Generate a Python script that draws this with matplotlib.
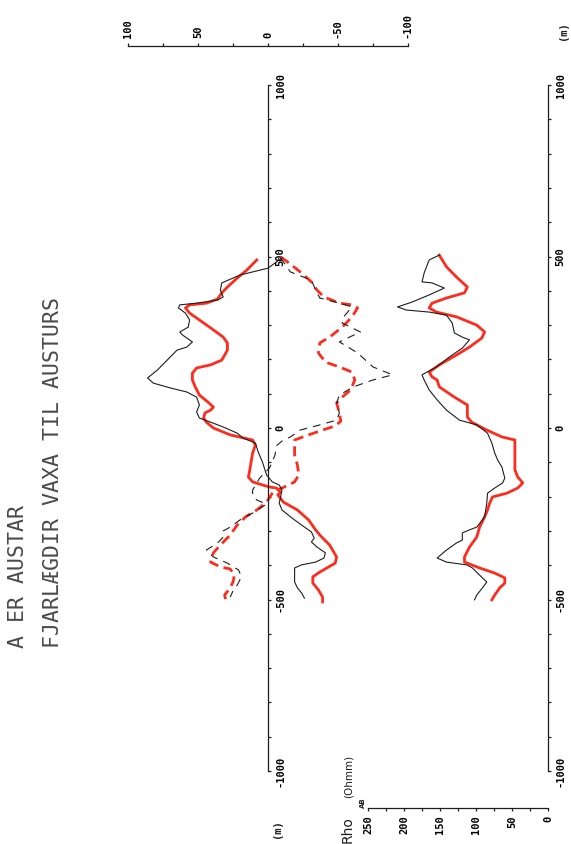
import matplotlib
matplotlib.use('Agg')
import matplotlib.pyplot as plt
import numpy as np

W, H = 571, 844  # figure size in pixels

# ---- top panel: Rho_BC-AB (solid) and Rho_AC-AB (dashed), Ohmm vs position (m)
meas_bc_pos = [496, 466, 446, 423, 402, 382, 373, 364, 359, 350, 335, 315, 294, 280, 271,
               251, 236, 227, 198, 169, 146, 131, 117, 105, 90, 67, 47, 29, 17, 3, -15,
               -29, -44, -70, -99, -137, -157, -166, -181, -201, -219, -239, -262, -283,
               -303, -321, -332, -347, -364, -379, -391, -399, -408, -429, -449, -466,
               -481, -496]
meas_bc = [-10, 0, 20, 33, 34, 32, 36, 51, 63, 64, 59, 56, 57, 63, 61,
           54, 58, 65, 72, 79, 86, 82, 70, 58, 51, 49, 51, 49, 41, 32, 22,
           18, 9, 7, 4, 1, -3, -8, -10, -9, -8, -10, -17, -24,
           -31, -33, -31, -35, -41, -40, -34, -24, -19, -19, -19, -21,
           -24, -26]

calc_bc_pos = [490, 461, 437, 411, 394, 376, 364, 359, 350, 335, 315, 286, 265, 248, 227,
               198, 184, 175, 160, 140, 120, 96, 76, 61, 52, 44, 29, 17, 0, -20, -35,
               -50, -73, -122, -143, -157, -166, -172, -175, -187, -195, -216, -239,
               -268, -297, -312, -341, -376, -394, -420, -434, -452, -472, -493, -507]
calc_bc = [8, 15, 22, 29, 33, 36, 44, 56, 59, 56, 49, 39, 32, 29, 29,
           33, 41, 51, 54, 54, 52, 49, 43, 39, 41, 45, 46, 44, 39, 27, 11,
           9, 11, 13, 14, 11, 4, -1, -6, -9, -7, -11, -21,
           -29, -34, -37, -44, -49, -48, -37, -32, -32, -36, -39, -39]

meas_ac_pos = [496, 455, 431, 402, 379, 364, 353, 324, 306, 280, 251, 219, 178, 155, 140,
               120, 96, 73, 44, 23, 9, -6, -26, -38, -52, -79, -99, -117, -146, -181,
               -195, -210, -222, -248, -268, -289, -300, -318, -335, -356, -376, -394,
               -414, -434, -458, -475, -493]
meas_ac = [-9, -16, -31, -34, -37, -51, -60, -54, -53, -66, -51, -64, -75, -89, -75,
           -61, -51, -49, -51, -49, -37, -23, -16, -10, -6, -5, -3, -1, 6, 11,
           11, 8, 1, 11, 20, 27, 32, 32, 36, 44, 39, 29,
           21, 19, 22, 25, 27]

calc_ac_pos = [499, 481, 455, 426, 402, 382, 364, 359, 350, 324, 294, 265, 248, 219, 192,
               178, 163, 140, 111, 90, 73, 44, 20, 6, -6, -20, -35, -50, -79, -108,
               -137, -157, -166, -175, -184, -216, -239, -259, -283, -312, -341, -364,
               -391, -405, -411, -429, -449, -466, -487, -504]
calc_ac = [-9, -15, -23, -31, -35, -40, -51, -60, -64, -60, -53, -44, -37, -36, -41,
           -51, -60, -62, -59, -53, -49, -51, -52, -48, -39, -29, -19, -19, -19, -21,
           -22, -19, -15, -10, -4, 1, 8, 16, 22, 27, 34, 39,
           41, 34, 27, 24, 25, 27, 31, 30]

# ---- bottom panel: Rho_AB (Ohmm) vs position (m)
meas_ab_pos = [504, 490, 452, 426, 423, 408, 388, 367, 353, 344, 338, 329, 306, 277, 265,
               257, 233, 207, 178, 163, 155, 140, 111, 82, 52, 23, 9, -15, -44, -73,
               -93, -114, -146, -160, -175, -190, -219, -259, -289, -297, -306, -327,
               -335, -356, -379, -391, -399, -408, -429, -449, -466, -487, -501]
meas_ab = [151, 165, 172, 175, 161, 144, 165, 189, 209, 197, 165, 141, 133, 130, 119,
           109, 119, 137, 155, 168, 175, 172, 165, 154, 141, 123, 99, 84, 78, 74,
           70, 64, 60, 63, 74, 84, 85, 88, 99, 109, 119, 119,
           127, 141, 154, 141, 113, 105, 95, 85, 91, 99, 102]

calc_ab_pos = [504, 470, 440, 411, 394, 379, 364, 350, 338, 324, 300, 280, 262, 236, 213,
               184, 163, 149, 140, 120, 90, 67, 32, 17, -6, -26, -35, -64, -93, -122,
               -143, -160, -175, -190, -201, -219, -239, -259, -289, -318, -347, -376,
               -391, -408, -423, -437, -452, -466, -487, -501]
calc_ab = [151, 141, 127, 112, 116, 141, 161, 165, 155, 127, 99, 88, 92, 109, 127,
           151, 165, 161, 154, 151, 130, 112, 112, 106, 85, 64, 46, 46, 46, 46,
           42, 35, 42, 57, 77, 81, 84, 88, 95, 99, 109, 116,
           116, 95, 74, 60, 60, 67, 74, 78]

pos_ticks = np.arange(-1000, 1001, 100)
pos_labels = [str(t) if t % 500 == 0 else '' for t in pos_ticks]
diff_ticks = np.arange(-100, 101, 25)
diff_labels = [str(t) if t % 50 == 0 else '' for t in diff_ticks]
ab_ticks = np.arange(0, 251, 25)
ab_labels = [str(t) if t % 50 == 0 else '' for t in ab_ticks]

RED = '#ff2b1c'
INK = '#1e1e1e'
MONO = 'DejaVu Sans Mono'


def rect(x0, y0, x1, y1):
    return [x0 / W, 1 - y1 / H, (x1 - x0) / W, (y1 - y0) / H]


def fx(x):
    return x / W


def fy(y):
    return 1 - y / H


fig = plt.figure(figsize=(W / 100, H / 100), dpi=100)
fig.patch.set_facecolor('white')

# top panel
ax1 = fig.add_axes(rect(128, 85, 408, 771))
ax1.set_xlim(100, -100)
ax1.set_ylim(-1000, 1000)
ax1.patch.set_alpha(0)
ax1.spines['left'].set_visible(False)
ax1.spines['bottom'].set_visible(False)
ax1.spines['right'].set_position(('data', 0))
ax1.spines['top'].set_position(('outward', 28))
for s in ('right', 'top'):
    ax1.spines[s].set_linewidth(0.9)
    ax1.spines[s].set_color(INK)
ax1.yaxis.set_ticks_position('right')
ax1.xaxis.set_ticks_position('top')
ax1.set_yticks(pos_ticks)
ax1.set_yticklabels(pos_labels, rotation=90, va='center', ha='left',
                    family=MONO, fontweight='bold', fontsize=7.5)
ax1.set_xticks(diff_ticks)
ax1.set_xticklabels(diff_labels, rotation=90, va='bottom', ha='center',
                    family=MONO, fontweight='bold', fontsize=7.5)
ax1.tick_params(axis='both', direction='out', length=2.5, width=0.9, color=INK, pad=3)

ax1.plot(calc_bc, calc_bc_pos, color=RED, lw=2.0)
ax1.plot(calc_ac, calc_ac_pos, color=RED, lw=2.0, dashes=(3.6, 2.0))
ax1.plot(meas_bc, meas_bc_pos, color=INK, lw=0.8)
ax1.plot(meas_ac, meas_ac_pos, color=INK, lw=0.8, dashes=(7, 5.5))

# bottom panel (Rho_AB)
ax2 = fig.add_axes(rect(368, 85, 548, 771))
ax2.set_xlim(250, 0)
ax2.set_ylim(-1000, 1000)
ax2.patch.set_alpha(0)
ax2.spines['left'].set_visible(False)
ax2.spines['top'].set_visible(False)
ax2.spines['bottom'].set_position(('outward', 26.5))
for s in ('right', 'bottom'):
    ax2.spines[s].set_linewidth(0.9)
    ax2.spines[s].set_color(INK)
ax2.yaxis.set_ticks_position('right')
ax2.xaxis.set_ticks_position('bottom')
ax2.set_yticks(pos_ticks)
ax2.set_yticklabels(pos_labels, rotation=90, va='center', ha='left',
                    family=MONO, fontweight='bold', fontsize=7.5)
ax2.set_xticks(ab_ticks)
ax2.set_xticklabels(ab_labels, rotation=90, va='top', ha='center',
                    family=MONO, fontweight='bold', fontsize=7.5)
ax2.tick_params(axis='both', direction='out', length=2.5, width=0.9, color=INK, pad=3)

ax2.plot(calc_ab, calc_ab_pos, color=RED, lw=2.0)
ax2.plot(meas_ab, meas_ab_pos, color=INK, lw=0.8)

# titles
fig.text(fx(18), fy(648), 'A ER AUSTAR', rotation=90, ha='center', va='bottom',
         family=MONO, fontsize=15.5, color='#4a4a4a')
fig.text(fx(53), fy(648), 'FJARLÆGDIR VAXA TIL AUSTURS', rotation=90, ha='center',
         va='bottom', family=MONO, fontsize=15.5, color='#4a4a4a')

# units
fig.text(fx(277), fy(838), '(m)', rotation=90, ha='center', va='bottom',
         family=MONO, fontweight='bold', fontsize=7.5, color=INK)
fig.text(fx(563), fy(40), '(m)', rotation=90, ha='center', va='bottom',
         family=MONO, fontweight='bold', fontsize=7.5, color=INK)
fig.text(fx(348), fy(843), 'Rho', rotation=90, ha='center', va='bottom',
         family='DejaVu Sans', fontsize=10, color=INK)
fig.text(fx(363), fy(808), 'AB', rotation=90, ha='center', va='bottom',
         family='DejaVu Sans', fontweight='bold', fontsize=5, color=INK)
fig.text(fx(349), fy(798), '(Ohmm)', rotation=90, ha='center', va='bottom',
         family='DejaVu Sans', fontsize=7.5, color=INK)

fig.savefig('out.png', dpi=100)
